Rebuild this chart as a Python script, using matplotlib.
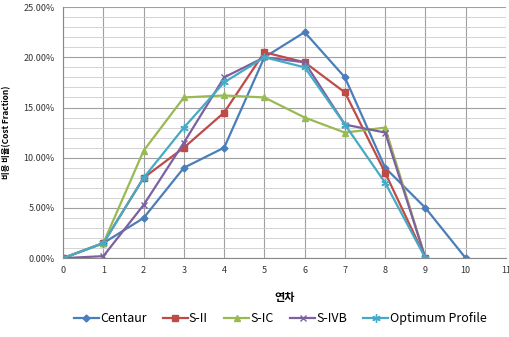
import matplotlib
matplotlib.use('Agg')
from matplotlib import pyplot as plt
from matplotlib.ticker import MultipleLocator, PercentFormatter

plt.rcParams['font.family'] = ['Noto Sans CJK KR', 'DejaVu Sans']

years = [0, 1, 2, 3, 4, 5, 6, 7, 8, 9, 10]
centaur = [0, 1.5, 4, 9, 11, 20, 22.5, 18, 9, 5, 0]
s_ii = [0, 1.5, 8, 11, 14.5, 20.5, 19.5, 16.5, 8.5, 0]
s_ic = [0, 1.5, 10.7, 16, 16.2, 16, 14, 12.5, 13, 0]
s_ivb = [0, 0.2, 5.3, 11.5, 18, 20, 19.5, 13.3, 12.5, 0]
optimum = [0, 1.5, 8, 13, 17.5, 20, 19, 13.3, 7.5, 0]

series = [
    ('Centaur', centaur, '#4A7EBB', 'D', 3.5),
    ('S-II', s_ii, '#BE4B48', 's', 5),
    ('S-IC', s_ic, '#98B954', '^', 5),
    ('S-IVB', s_ivb, '#7D60A0', 'x', 5),
    ('Optimum Profile', optimum, '#46AAC5', (6, 2, 0), 6),
]

fig = plt.figure(figsize=(5.09, 3.37), dpi=100)
ax = fig.add_axes([0.124, 0.234, 0.870, 0.745])

for name, vals, col, mk, ms in series:
    ax.plot(years[:len(vals)], [v / 100 for v in vals], color=col, marker=mk, markersize=ms,
            linewidth=1.6, label=name, markeredgewidth=1.0)

ax.set_xlim(0, 11)
ax.set_ylim(0, 0.25)
ax.xaxis.set_major_locator(MultipleLocator(1))
ax.yaxis.set_major_locator(MultipleLocator(0.05))
ax.yaxis.set_minor_locator(MultipleLocator(0.01))
ax.yaxis.set_major_formatter(PercentFormatter(1.0, decimals=2))
ax.grid(which='major', color='#A0A0A0', linewidth=0.8)
ax.grid(which='minor', axis='y', color='#CCCCCC', linewidth=0.6)
ax.set_axisbelow(True)
ax.tick_params(which='both', length=0, labelsize=6.5, colors='#333333', pad=6)
for s in ['top', 'right']:
    ax.spines[s].set_visible(False)
ax.spines['left'].set_color('#888888')
ax.spines['bottom'].set_color('#888888')

ax.set_xlabel('연차', fontsize=8, fontweight='bold', labelpad=11)
ax.set_ylabel('비용 비율(Cost Fraction)', fontsize=6, fontweight='bold', labelpad=9)

fig.legend(loc='center', bbox_to_anchor=(0.55, 0.055), ncol=5, frameon=False, fontsize=9,
           handlelength=2.0, handletextpad=0.1, columnspacing=1.3)

fig.savefig('out.png', dpi=100, facecolor='white')
